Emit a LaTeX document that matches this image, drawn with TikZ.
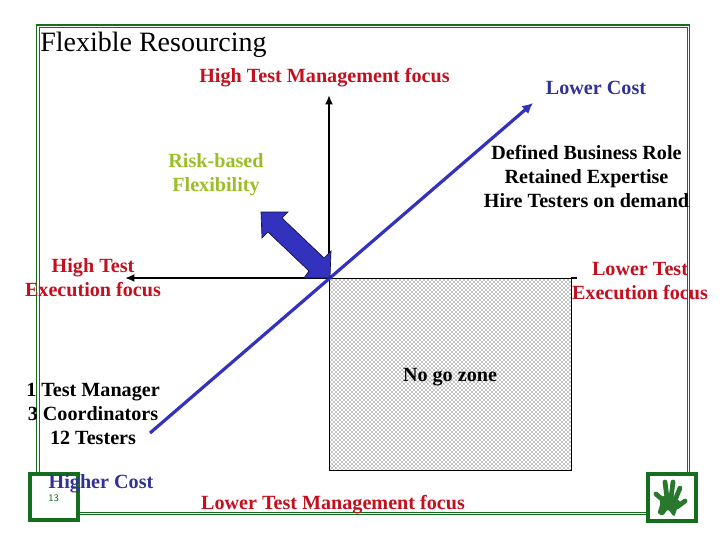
\documentclass[tikz,border=0pt]{standalone}
\usepackage{fontspec}
\setmainfont{Liberation Serif}
\usetikzlibrary{patterns,arrows.meta}
\definecolor{framegreen}{RGB}{20,110,30}
\definecolor{handgreen}{RGB}{40,120,45}
\definecolor{armblue}{RGB}{50,50,190}
\definecolor{labelred}{RGB}{195,15,30}
\definecolor{labelblue}{RGB}{50,50,150}
\definecolor{labelolive}{RGB}{155,190,40}
\pgfdeclarepatternformonly{zonedots}{\pgfqpoint{-0.5pt}{-0.5pt}}{\pgfqpoint{3.5pt}{3.5pt}}{\pgfqpoint{3pt}{3pt}}{
  \pgfpathcircle{\pgfqpoint{0pt}{0pt}}{0.42pt}
  \pgfpathcircle{\pgfqpoint{1.5pt}{1.5pt}}{0.42pt}
  \pgfusepath{fill}
}

\begin{document}
\begin{tikzpicture}[x=0.75pt,y=-0.75pt]
    \tikzstyle{every node}=[inner sep=0pt,align=center,font=\bfseries\fontsize{15.1}{18}\selectfont]
    \tikzstyle{axis}=[black,line width=1.5pt,-{Latex[length=7pt,width=6pt]}]
    \tikzstyle{corner}=[draw=framegreen,line width=3pt,fill=white]
    \tikzstyle{finger}=[handgreen,line width=3.6pt,line cap=round]
    \useasboundingbox (0,0) rectangle (720,540);
    % frame
    \draw[framegreen,line width=0.8pt] (36.5,25) rectangle (689.5,514.5);
    \draw[framegreen,line width=0.5pt] (39,27.5) rectangle (687,512);
    \draw[corner] (30,474) rectangle (78,520);
    \draw[corner] (648,474) rectangle (696,521);
    % no go zone
    \coordinate (centre) at (329,278);
    \coordinate (boxcorner) at (571,470);
    \draw[black,line width=0.5pt,pattern=zonedots,pattern color=black] (centre) rectangle (boxcorner);
    % axes
    \coordinate (up) at (329,95);
    \coordinate (left) at (125,278);
    \coordinate (right) at (577,278);
    \coordinate (rightstub) at (571,278);
    \draw[axis] (centre) -- (up);
    \draw[axis] (centre) -- (left);
    \draw[black,line width=1.2pt] (rightstub) -- (right);
    % diagonal
    \coordinate (costlow) at (533,103);
    \coordinate (costhigh) at (150,433);
    \draw[armblue,line width=2.4pt,-{Latex[length=8pt,width=8pt]}] (costhigh) -- (costlow);
    % block arrow
    \filldraw[draw=black!70!armblue,fill=armblue,line width=0.5pt] (261,212) -- (288,212) -- (282,218) -- (324,258)
      -- (331,251) -- (330,278) -- (304,278) -- (309,271) -- (268,232) -- (262,238) -- cycle;
    % hand
    \fill[handgreen] plot[smooth cycle] coordinates {(661,497) (672,496) (681,503) (677,509) (674,516) (668,510) (663,515) (658,513) (660,505)};
    \draw[finger] (664,501) -- (656,494);
    \draw[finger] (667,498) -- (665,482);
    \draw[finger] (671,498) -- (673,482);
    \draw[finger] (675,500) -- (680,488);
    \draw[finger] (677,507) -- (685,501);
    \node[anchor=west,font=\fontsize{21}{24}\selectfont] (title) at (40,45) {Flexible Resourcing};
    \node[text=labelred] (hightm) at (324.5,78) {High Test Management focus};
    \node[text=labelblue] (lowcost) at (596,87.5) {Lower Cost};
    \node[text=labelolive] (flex) at (216,174.5) {Risk-based\\Flexibility};
    \node[text=black] (defined) at (586.5,177) {Defined Business Role\\Retained Expertise\\Hire Testers on demand};
    \node[text=labelred] (highte) at (93,277.5) {High Test\\Execution focus};
    \node[text=labelred] (lowte) at (640,281.5) {Lower Test\\Execution focus};
    \node[text=black] (nogo) at (450,377) {No go zone};
    \node[text=black] (team) at (93,413.5) {1 Test Manager\\3 Coordinators\\12 Testers};
    \node[text=labelblue] (highcost) at (101,484) {Higher Cost};
    \node[text=framegreen,anchor=west,font=\sffamily\fontsize{7.5}{9}\selectfont] (pagenum) at (48,498) {13};
    \node[text=labelred] (lowtm) at (333,505) {Lower Test Management focus};
\end{tikzpicture}
\end{document}
